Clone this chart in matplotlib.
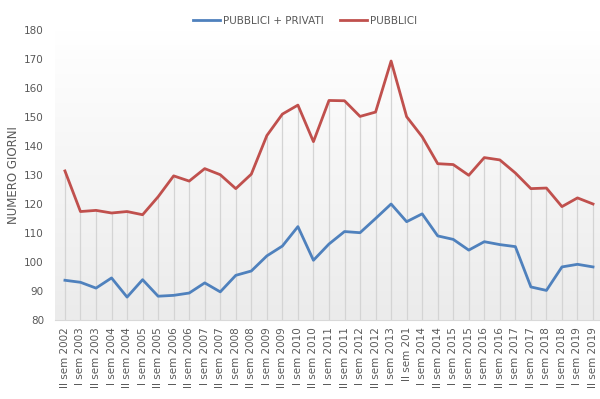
import numpy as np
import matplotlib
matplotlib.use("Agg")
import matplotlib.pyplot as plt
from matplotlib.lines import Line2D

# Semester labels (II sem 2002 ... II sem 2019)
labels = ["II sem 2002",
          "I sem 2003", "II sem 2003", "I sem 2004", "II sem 2004",
          "I sem 2005", "II sem 2005", "I sem 2006", "II sem 2006",
          "I sem 2007", "II sem 2007", "I sem 2008", "II sem 2008",
          "I sem 2009", "II sem 2009", "I sem 2010", "II sem 2010",
          "I sem 2011", "II sem 2011", "I sem 2012", "II sem 2012",
          "I sem 2013", "II sem 201", "I sem 2014", "II sem 2014",
          "I sem 2015", "II sem 2015", "I sem 2016", "II sem 2016",
          "I sem 2017", "II sem 2017", "I sem 2018", "II sem 2018",
          "I sem 2019", "II sem 2019"]

pubblici_privati = [93.7, 93.0, 91.0, 94.5, 87.9, 93.9, 88.2, 88.5, 89.3,
                    92.8, 89.7, 95.4, 96.9, 102.1, 105.5, 112.2, 100.6,
                    106.2, 110.5, 110.1, 115.0, 120.0, 113.9, 116.6, 109.0,
                    107.8, 104.1, 107.0, 106.0, 105.3, 91.4, 90.2, 98.3,
                    99.2, 98.3]

pubblici = [131.4, 117.4, 117.8, 116.9, 117.4, 116.3, 122.5, 129.7, 127.9,
            132.2, 130.1, 125.3, 130.3, 143.6, 151.0, 154.1, 141.5,
            155.7, 155.6, 150.2, 151.7, 169.3, 150.1, 143.2, 133.9,
            133.6, 129.9, 136.0, 135.2, 130.7, 125.3, 125.5, 119.1,
            122.1, 120.0]

blue = "#4F81BD"
red = "#C0504D"
grey_text = "#595959"

fig = plt.figure(figsize=(6.0, 3.99), dpi=100)
ax = fig.add_axes([55 / 600, 1 - 320 / 399, 545 / 600, 290 / 399])

x = np.arange(len(labels))
ax.set_xlim(-0.64, len(labels) - 1 + 0.45)
ax.set_ylim(80, 180)

# soft vertical gradient in the plot area
grad = np.linspace(1.0, 0.0, 256).reshape(-1, 1)
ax.imshow(grad, extent=[0, 1, 0, 1], transform=ax.transAxes, aspect="auto",
          cmap=matplotlib.colors.LinearSegmentedColormap.from_list(
              "bg", ["#ebebeb", "#ffffff"]), zorder=0)

# drop lines from the upper series down to the axis
ax.vlines(x, 80, pubblici, colors="#d4d4d4", linewidth=0.9, zorder=1)

ax.plot(x, pubblici_privati, color=blue, linewidth=2.0, zorder=3,
        solid_joinstyle="round")
ax.plot(x, pubblici, color=red, linewidth=2.0, zorder=3,
        solid_joinstyle="round")

for s in ["top", "right", "left"]:
    ax.spines[s].set_visible(False)
ax.spines["bottom"].set_color("#d9d9d9")

ax.set_yticks(np.arange(80, 181, 10))
ax.tick_params(axis="y", length=0, labelsize=7.5, labelcolor=grey_text, pad=8)
ax.set_xticks(x)
ax.set_xticklabels(labels, rotation=90, fontsize=7.5, color=grey_text)
ax.tick_params(axis="x", length=0, pad=5)

fig.text(14 / 600, 1 - 175 / 399, "NUMERO GIORNI", rotation=90,
         fontsize=8.5, color=grey_text, ha="center", va="center")

handles = [Line2D([], [], color=blue, linewidth=2.0),
           Line2D([], [], color=red, linewidth=2.0)]
fig.legend(handles, ["PUBBLICI + PRIVATI", "PUBBLICI"], loc="center",
           bbox_to_anchor=(305 / 600, 1 - 21 / 399), ncol=2, frameon=False,
           fontsize=7.5, handlelength=2.6, handletextpad=0.3, columnspacing=1.6,
           labelcolor=grey_text)

fig.savefig("out.png", dpi=100, facecolor="white")
